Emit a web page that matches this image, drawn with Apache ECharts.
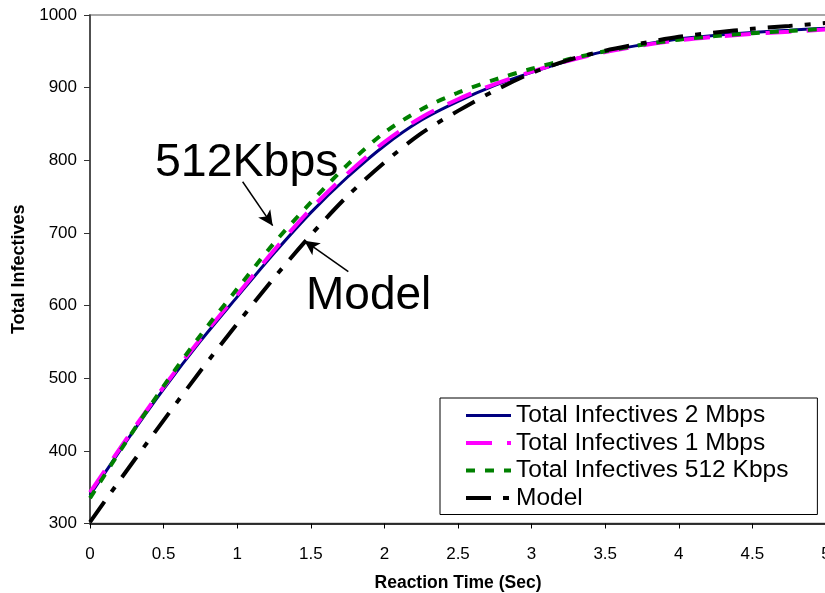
<!DOCTYPE html>
<html>
<head>
<meta charset="utf-8">
<script src="https://cdn.jsdelivr.net/npm/echarts@6/dist/echarts.min.js"></script>
<style>
  html, body { margin: 0; padding: 0; background: #fff; }
  #chart { width: 825px; height: 593px; }
</style>
</head>
<body>
<div id="chart"></div>
<script>
// Reaction time (seconds) at which each curve was sampled
var reactionTime = [0, 0.25, 0.5, 0.75, 1, 1.25, 1.5, 1.75, 2, 2.25, 2.5,
                    2.75, 3, 3.25, 3.5, 3.75, 4, 4.25, 4.5, 4.75, 5];

// Total infectives per link speed, plus the analytical model
var infectives2Mbps = [339, 414, 485, 551, 612, 672, 728, 777, 820, 855, 881,
                       903, 921, 937, 950, 959, 967, 972, 976, 979, 982];
var infectives1Mbps = [343, 417, 488, 554, 615, 676, 733, 782, 825, 859, 884,
                       905, 922, 937, 949, 958, 965, 970, 974, 977, 980];
var infectives512Kbps = [335, 414, 489, 559, 623, 686, 742, 794, 838, 870, 893,
                         911, 926, 939, 950, 959, 966, 971, 975, 978, 981];
var infectivesModel = [302, 373, 442, 510, 575, 638, 697, 751, 797, 837, 868,
                       896, 920, 938, 951, 961, 970, 976, 981, 985, 989];

var seriesNames = ['Total Infectives 2 Mbps', 'Total Infectives 1 Mbps',
                   'Total Infectives 512 Kbps', 'Model'];

// Callout arrows, [tail, head] in (time, infectives)
var arrow512 = [[1.037, 770.5], [1.241, 710]];
var arrowModel = [[1.755, 646.6], [1.456, 689.3]];

var FONT = '"Liberation Sans", Arial, sans-serif';

function pairs(values) {
  return reactionTime.map(function (t, i) { return [t, values[i]]; });
}

var chart = echarts.init(document.getElementById('chart'), null, { renderer: 'canvas' });

chart.setOption({
  animation: false,
  backgroundColor: '#ffffff',
  textStyle: { fontFamily: FONT },
  grid: {
    left: 90, top: 15, width: 736, height: 508.5,
    outerBoundsMode: 'none', containLabel: false,
    show: true, borderColor: '#a8a8a8', borderWidth: 2, backgroundColor: '#ffffff'
  },
  xAxis: {
    type: 'value', min: 0, max: 5, interval: 0.5,
    name: 'Reaction Time (Sec)', nameLocation: 'middle', nameGap: 51,
    nameTextStyle: { fontFamily: FONT, fontSize: 17.5, fontWeight: 'bold', color: '#000' },
    axisLine: { show: true, lineStyle: { color: '#000', width: 1.5 } },
    axisTick: { show: true, inside: false, length: 5, lineStyle: { color: '#000' } },
    axisLabel: { fontFamily: FONT, fontSize: 17, color: '#000', margin: 22, showMaxLabel: true,
                 formatter: function (v) { return String(v); } },
    splitLine: { show: false }
  },
  yAxis: {
    type: 'value', min: 300, max: 1000, interval: 100,
    name: 'Total Infectives', nameLocation: 'middle', nameGap: 46, nameRotate: 90,
    nameTextStyle: { fontFamily: FONT, fontSize: 18, fontWeight: 'bold', color: '#000' },
    axisLine: { show: true, lineStyle: { color: '#333', width: 1.5 } },
    axisTick: { show: true, inside: false, length: 6, lineStyle: { color: '#333' } },
    axisLabel: { fontFamily: FONT, fontSize: 17, color: '#000', margin: 13,
                 formatter: function (v) { return String(v); } },
    splitLine: { show: false }
  },
  legend: {
    orient: 'vertical', left: 440, top: 398,
    padding: [5, 29, 4, 24], itemGap: 2.5,
    itemWidth: 45, itemHeight: 1,
    backgroundColor: '#ffffff', borderColor: '#000', borderWidth: 1,
    lineStyle: { width: 'inherit', type: 'inherit' },
    textStyle: { fontFamily: FONT, fontSize: 24.5, color: '#000' },
    data: seriesNames
  },
  series: [
    {
      name: seriesNames[0], type: 'line', data: pairs(infectives2Mbps),
      smooth: 0.3, showSymbol: false, symbol: 'none',
      lineStyle: { color: '#000080', width: 3, type: 'solid' },
      itemStyle: { color: '#000080' }
    },
    {
      name: seriesNames[1], type: 'line', data: pairs(infectives1Mbps),
      smooth: 0.3, showSymbol: false, symbol: 'none',
      lineStyle: { color: '#ff00ff', width: 4, type: [26, 15] },
      itemStyle: { color: '#ff00ff' }
    },
    {
      name: seriesNames[2], type: 'line', data: pairs(infectives512Kbps),
      smooth: 0.3, showSymbol: false, symbol: 'none',
      lineStyle: { color: '#008000', width: 4, type: [9, 10] },
      itemStyle: { color: '#008000' }
    },
    {
      name: seriesNames[3], type: 'line', data: pairs(infectivesModel),
      smooth: 0.3, showSymbol: false, symbol: 'none',
      lineStyle: { color: '#000000', width: 4, type: [25, 12, 6, 12] },
      itemStyle: { color: '#000000' },
      markLine: {
        silent: true, animation: false,
        symbol: ['none', 'arrow'], symbolSize: [11, 15],
        label: { show: false },
        lineStyle: { color: '#000', width: 1.5, type: 'solid' },
        data: [
          [{ coord: arrow512[0] }, { coord: arrow512[1] }],
          [{ coord: arrowModel[0] }, { coord: arrowModel[1] }]
        ]
      }
    }
  ],
  graphic: [
    {
      type: 'text', left: 155, top: 140, z: 100,
      style: { text: '512Kbps', font: '46.5px ' + FONT, fill: '#000' }
    },
    {
      type: 'text', left: 306, top: 273, z: 100,
      style: { text: 'Model', font: '46px ' + FONT, fill: '#000' }
    }
  ]
});
</script>
</body>
</html>
